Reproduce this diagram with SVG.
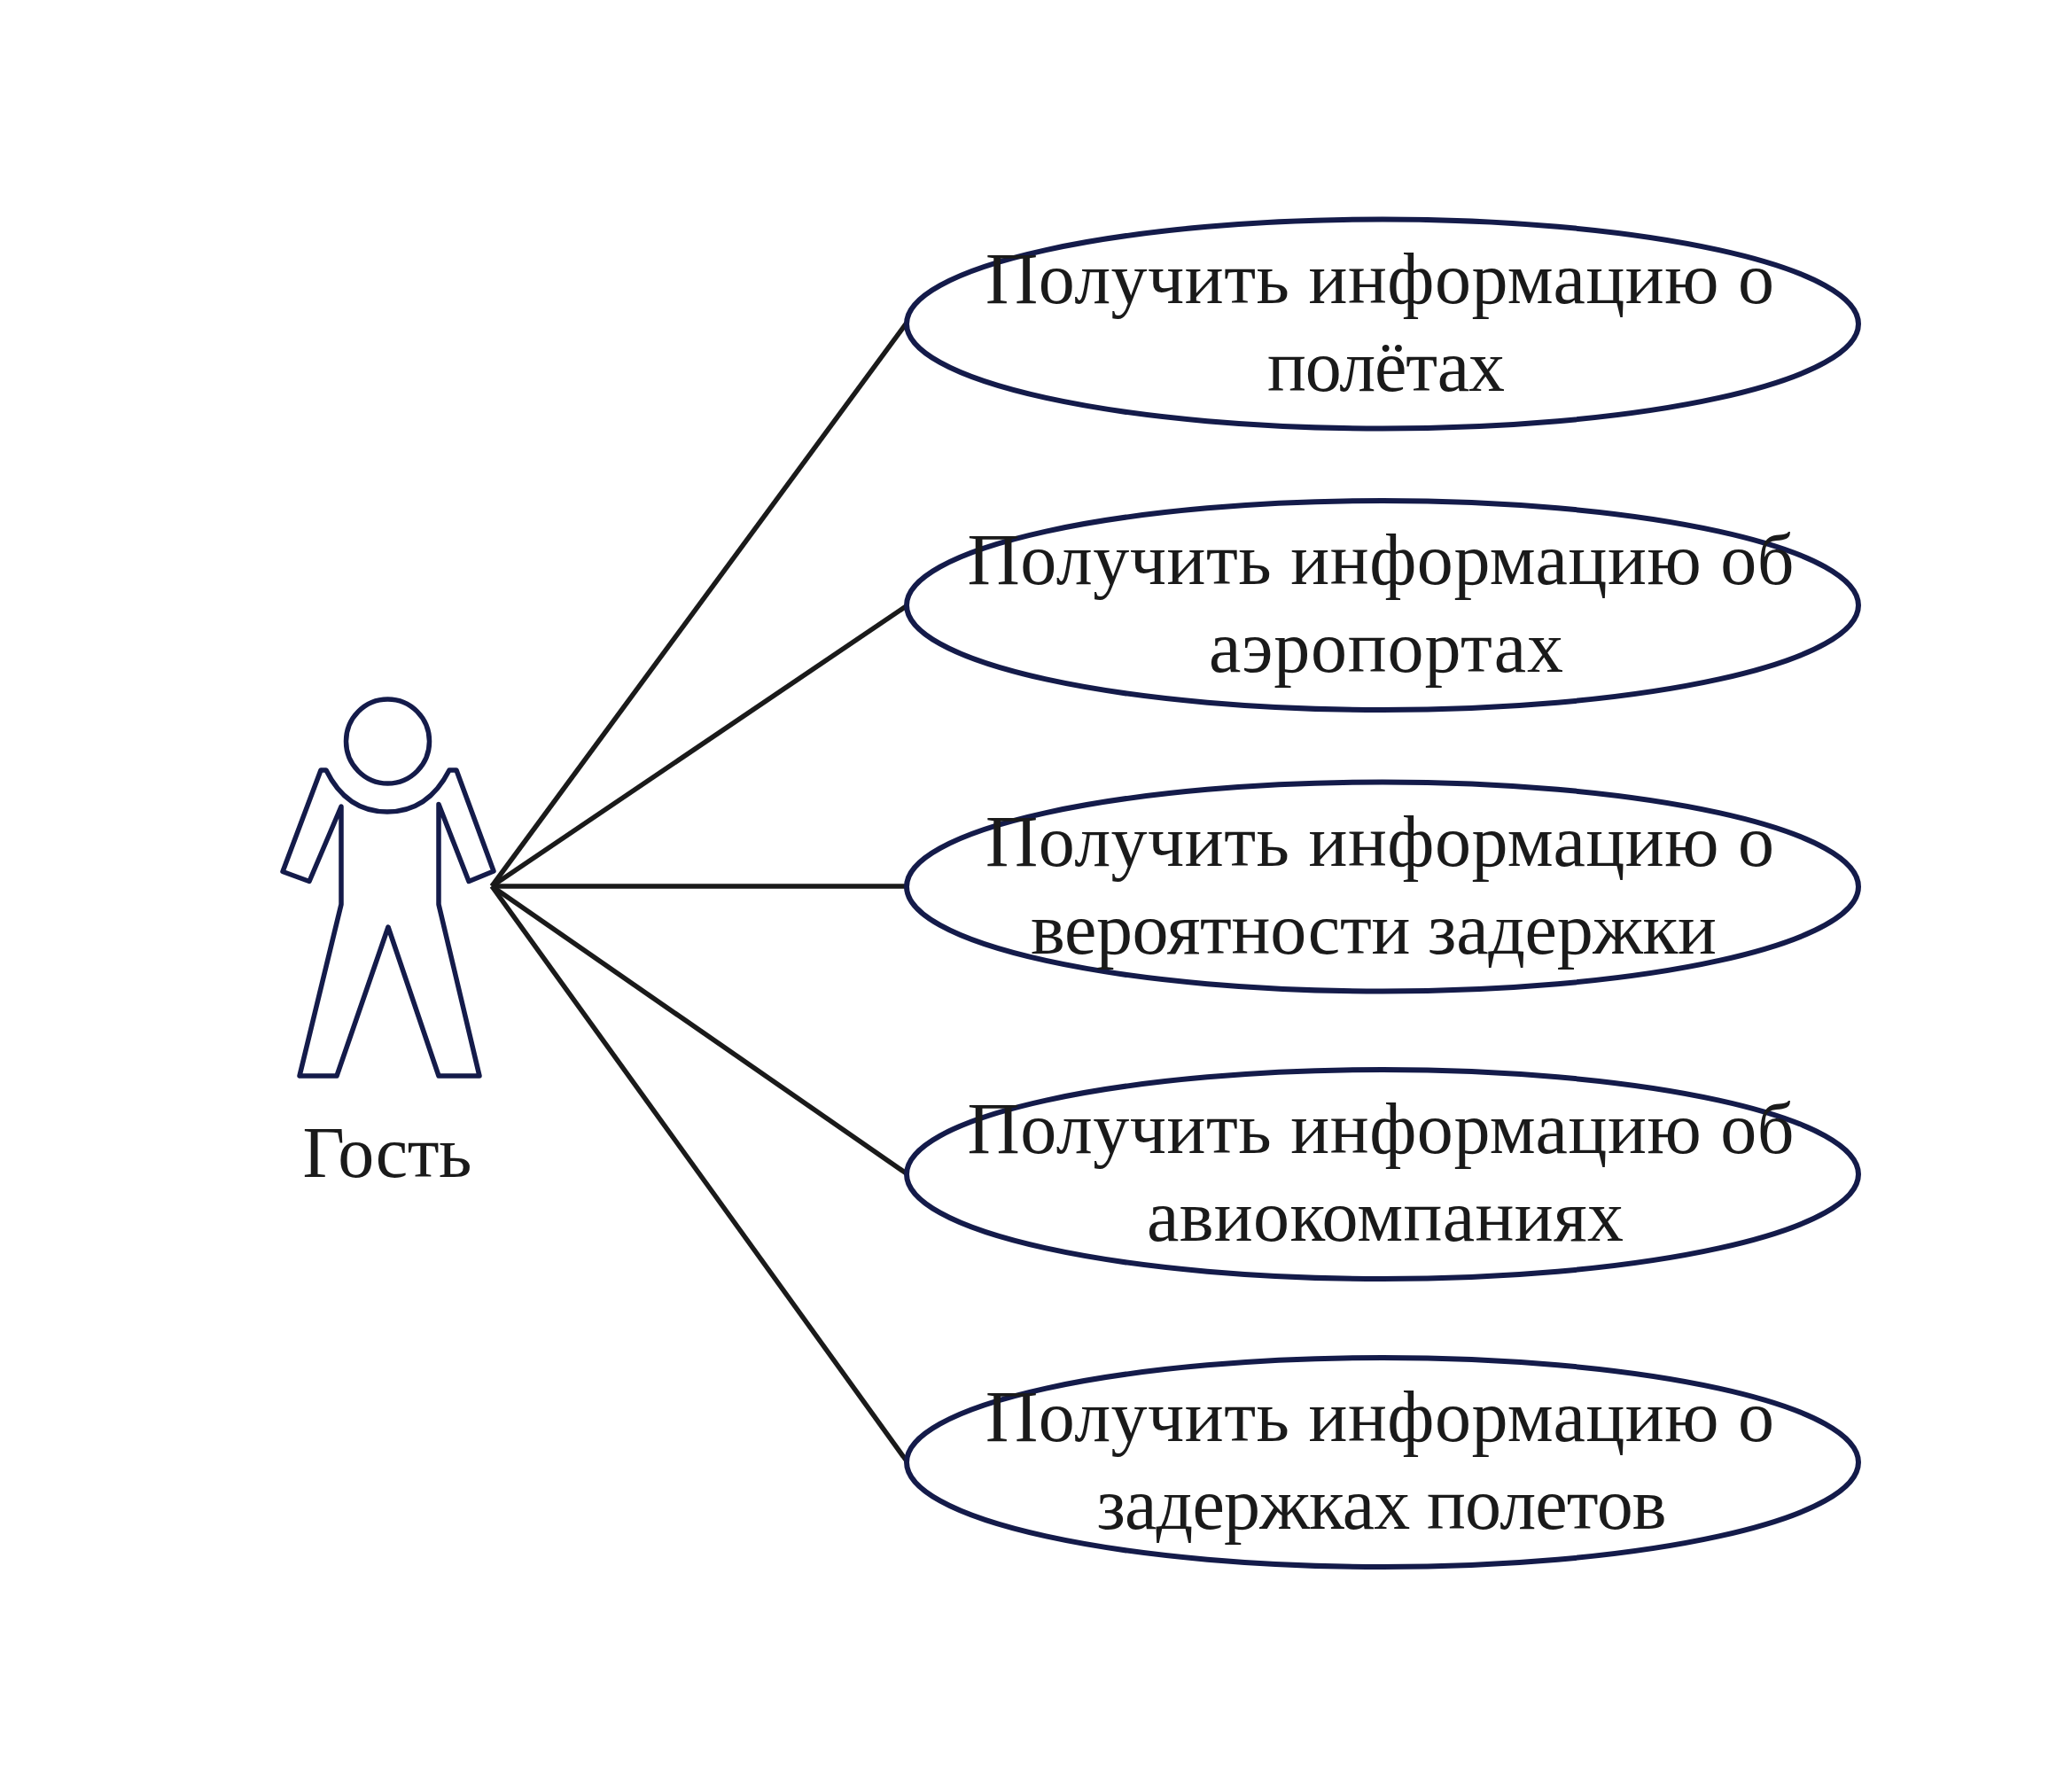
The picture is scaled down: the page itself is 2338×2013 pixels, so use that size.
<svg xmlns="http://www.w3.org/2000/svg" width="2338" height="2013" viewBox="0 0 2338 2013">
<style>
.s{fill:none;stroke:#141b4a;stroke-width:5.5;stroke-linejoin:round;stroke-linecap:round}
.u{fill:none;stroke:#141b4a;stroke-width:6}
.c{fill:none;stroke:#1a1a1a;stroke-width:5.5}
text{font-family:"Liberation Serif","Times New Roman",serif;font-size:82px;fill:#1a1a1a;text-anchor:middle}
</style>
<rect width="2338" height="2013" fill="#fff"/>
<g id="connectors">
<line class="c" x1="555" y1="1000" x2="1024" y2="363"/>
<line class="c" x1="555" y1="1000" x2="1024" y2="683"/>
<line class="c" x1="555" y1="1000" x2="1024" y2="1000"/>
<line class="c" x1="555" y1="1000" x2="1024" y2="1325"/>
<line class="c" x1="555" y1="1000" x2="1024" y2="1650"/>
</g>
<g id="actor">
<ellipse class="s" cx="437.5" cy="836.5" rx="47" ry="47.5"/>
<path class="s" d="M368 869H362L319 983.5L349 994.5L385 910V1020.5L338 1214H380L438 1046L495 1214H541L495 1020.5V907.5L529 994.5L557 983L515 869H507Q483 916 437 916T368 869Z"/>
<text x="437" y="1328" textLength="191">Гость</text>
</g>
<g id="uc1"><ellipse class="u" cx="1560" cy="365.500" rx="537" ry="118"/><text x="1557" y="341.500" textLength="890">Получить информацию о</text><text x="1564" y="440.500" textLength="268">полётах</text></g>
<g id="uc2"><ellipse class="u" cx="1560" cy="683" rx="537" ry="118"/><text x="1558" y="658.500" textLength="933">Получить информацию об</text><text x="1564" y="757.500" textLength="400">аэропортах</text></g>
<g id="uc3"><ellipse class="u" cx="1560" cy="1000.500" rx="537" ry="118"/><text x="1557" y="976.500" textLength="890">Получить информацию о</text><text x="1550" y="1075.500" textLength="774">вероятности задержки</text></g>
<g id="uc4"><ellipse class="u" cx="1560" cy="1325" rx="537" ry="118"/><text x="1558" y="1300.500" textLength="933">Получить информацию об</text><text x="1563" y="1399.500" textLength="538">авиокомпаниях</text></g>
<g id="uc5"><ellipse class="u" cx="1560" cy="1650" rx="537" ry="118"/><text x="1557" y="1625.500" textLength="890">Получить информацию о</text><text x="1559" y="1724.500" textLength="643">задержках полетов</text></g>
</svg>
